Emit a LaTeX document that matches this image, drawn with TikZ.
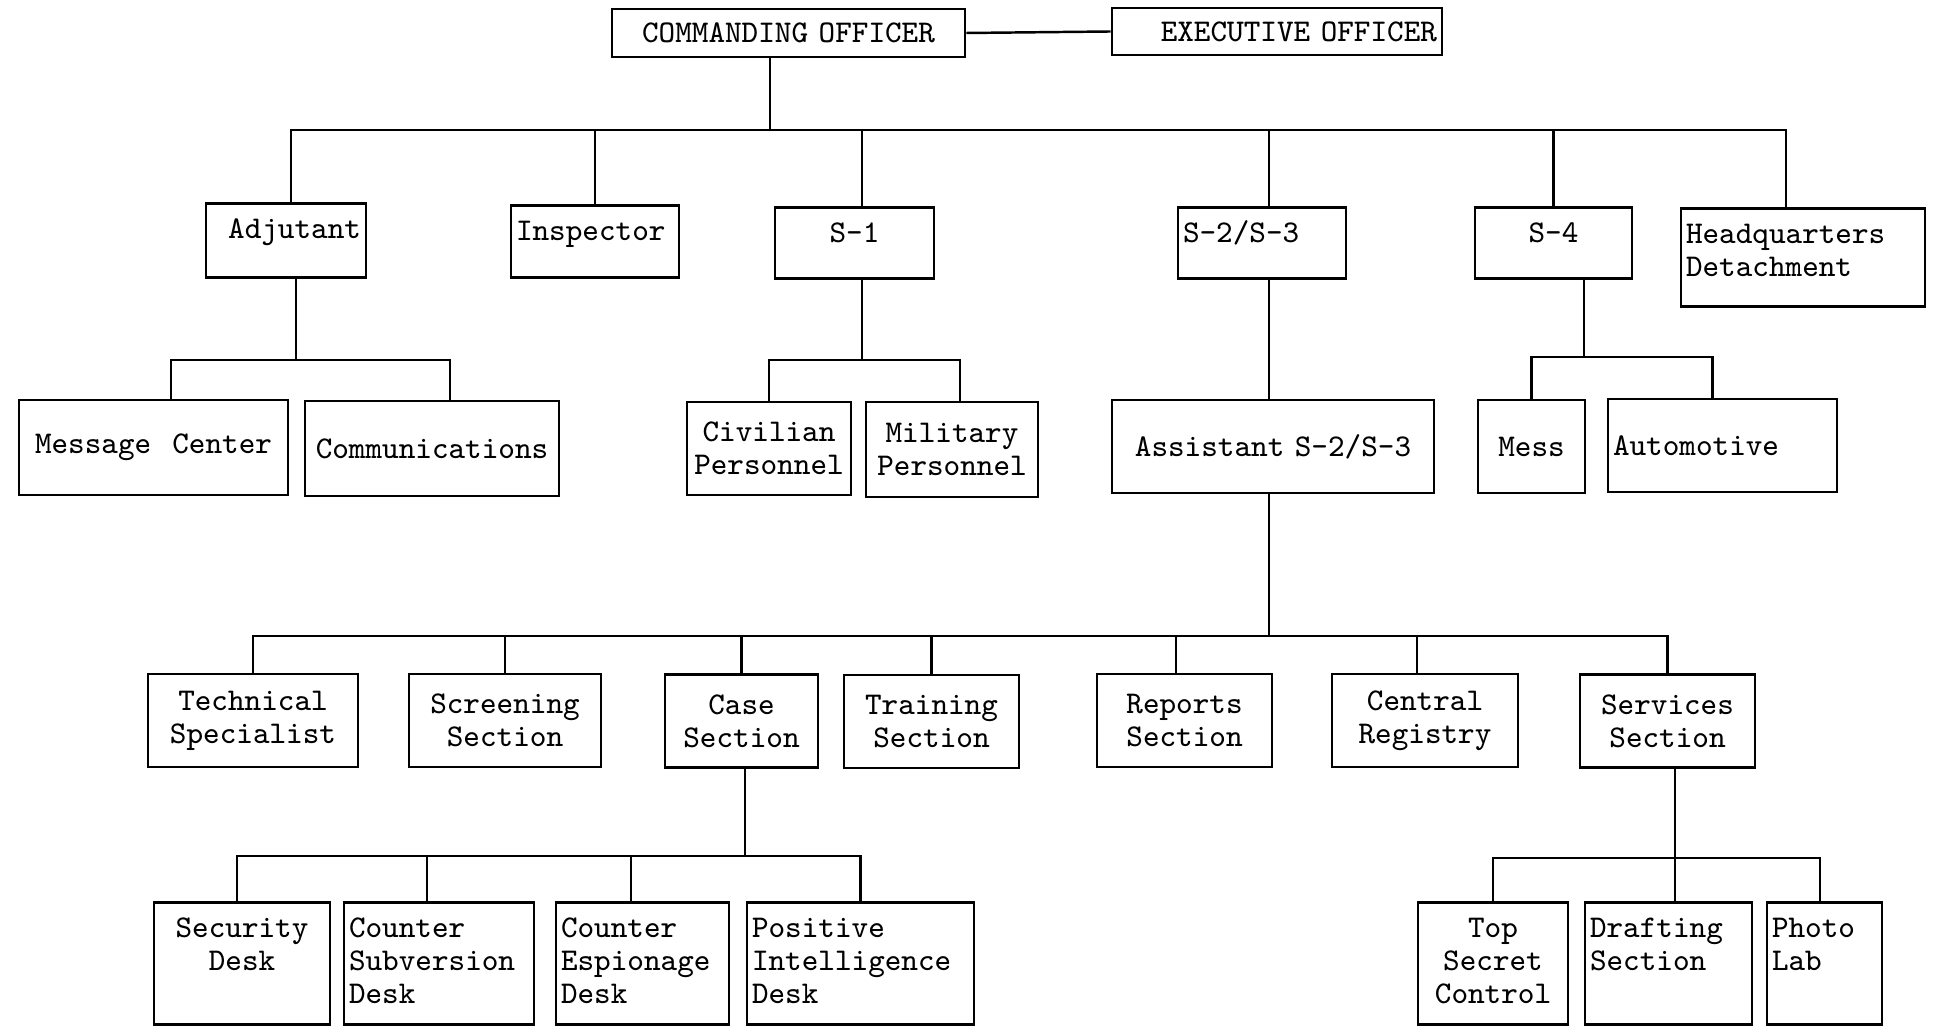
\documentclass[tikz,border=0pt]{standalone}
\usepackage{amsmath, amssymb}
\usepackage{tikz}

\begin{document}
\begin{tikzpicture}[
    unit/.style={draw, line width=0.8pt, inner xsep=0.5mm, inner ysep=0pt,
      font=\fontsize{9}{9.4}\selectfont\ttfamily},
    mid/.style={unit, minimum height=#1},
    hung/.style={unit, anchor=north, text height=3.5mm, text depth=#1},
    link/.style={line width=0.7pt}
  ]
    \useasboundingbox[fill=white] (0,0) rectangle (19.35,-10.26);

    % command
    \node[mid=4.8mm, text width=34.3mm, align=center] (co) at (7.885,-0.33) {COMMANDING OFFICER};
    \node[mid=4.7mm, text width=32mm, align=right] (xo) at (12.77,-0.315) {EXECUTIVE OFFICER};

    % staff
    \node[hung=3.9mm, text width=15mm, align=right] (adj) at (2.86,-2.02) {Adjutant};
    \node[hung=3.7mm, text width=15.8mm, align=left] (insp) at (5.95,-2.04) {Inspector};
    \node[hung=3.6mm, text width=14.9mm, align=center] (s1) at (8.545,-2.06) {S-1};
    \node[hung=3.6mm, text width=15.8mm, align=left] (s23) at (12.62,-2.06) {S-2/S-3};
    \node[hung=3.6mm, text width=14.7mm, align=center] (s4) at (15.535,-2.06) {S-4};
    \node[hung=6.3mm, text width=23.4mm, align=left] (hq) at (18.03,-2.07) {Headquarters\\Detachment};

    \node[mid=9.5mm, text width=25.9mm, align=center] (msg) at (1.535,-4.475) {Message\ \ Center};
    \node[mid=9.5mm, text width=24.4mm, align=center] (com) at (4.32,-4.485) {Communications};
    \node[mid=9.3mm, text width=15.4mm, align=center] (civ) at (7.69,-4.485) {Civilian\\Personnel};
    \node[mid=9.5mm, text width=16.2mm, align=center] (mil) at (9.52,-4.495) {Military\\Personnel};
    \node[mid=9.3mm, text width=31.2mm, align=center] (asst) at (12.73,-4.465) {Assistant S-2/S-3};
    \node[mid=9.3mm, text width=9.7mm, align=center] (mess) at (15.315,-4.465) {Mess};
    \node[mid=9.3mm, text width=21.9mm, align=left] (auto) at (17.225,-4.455) {Automotive};

    % sections
    \node[mid=9.3mm, text width=20mm, align=center] (tech) at (2.53,-7.205) {Technical\\Specialist};
    \node[mid=9.3mm, text width=18.2mm, align=center] (scr) at (5.05,-7.205) {Screening\\Section};
    \node[mid=9.3mm, text width=14.3mm, align=center] (case) at (7.415,-7.21) {Case\\Section};
    \node[mid=9.3mm, text width=16.5mm, align=center] (trn) at (9.315,-7.215) {Training\\Section};
    \node[mid=9.3mm, text width=16.5mm, align=center] (rep) at (11.845,-7.205) {Reports\\Section};
    \node[mid=9.3mm, text width=17.6mm, align=center] (cen) at (14.25,-7.205) {Central\\Registry};
    \node[mid=9.3mm, text width=16.5mm, align=center] (serv) at (16.675,-7.21) {Services\\Section};

    % desks
    \node[hung=8.7mm, text width=16.6mm, align=center] (sec) at (2.42,-9.01) {Security\\Desk};
    \node[hung=8.7mm, text width=18mm, align=left] (csub) at (4.39,-9.01) {Counter\\Subversion\\Desk};
    \node[hung=8.7mm, text width=16.3mm, align=left] (cesp) at (6.425,-9.01) {Counter\\Espionage\\Desk};
    \node[hung=8.7mm, text width=21.7mm, align=left] (pos) at (8.605,-9.01) {Positive\\Intelligence\\Desk};
    \node[hung=8.7mm, text width=14mm, align=center] (tsc) at (14.93,-9.01) {Top\\Secret\\Control};
    \node[hung=8.7mm, text width=15.7mm, align=left] (dft) at (16.685,-9.01) {Drafting\\Section};
    \node[hung=8.7mm, text width=10.5mm, align=left] (pho) at (18.245,-9.01) {Photo\\Lab};

    \coordinate (topbar) at (7.70,-1.30);
    \coordinate (adjbar) at (2.96,-3.60);
    \coordinate (s1bar) at (8.62,-3.60);
    \coordinate (s4bar) at (15.84,-3.57);
    \coordinate (midbar) at (12.69,-6.36);
    \coordinate (casebar) at (7.45,-8.56);
    \coordinate (servbar) at (16.75,-8.58);

    \draw[link] (co.east) -- (xo.west);
    \draw[link] (co.south -| topbar) -- (topbar);
    \draw[link] (topbar) -| ([xshift=0.5mm]adj.north);
    \draw[link] (topbar) -| (insp.north);
    \draw[link] (topbar) -| (s1.north -| s1bar);
    \draw[link] (topbar) -| (s23.north -| midbar);
    \draw[link] (topbar) -| (s4.north);
    \draw[link] (topbar) -| ([xshift=-1.7mm]hq.north);

    \draw[link] (adj.south -| adjbar) -- (adjbar);
    \draw[link] (adjbar) -| ([xshift=1.75mm]msg.north);
    \draw[link] (adjbar) -| ([xshift=1.8mm]com.north);
    \draw[link] (s1.south -| s1bar) -- (s1bar);
    \draw[link] (s1bar) -| (civ.north);
    \draw[link] (s1bar) -| ([xshift=0.8mm]mil.north);
    \draw[link] (s23.south -| midbar) -- (asst.north -| midbar);
    \draw[link] (s4.south -| s4bar) -- (s4bar);
    \draw[link] (s4bar) -| (mess.north);
    \draw[link] (s4bar) -| ([xshift=-1mm]auto.north);

    \draw[link] (asst.south -| midbar) -- (midbar);
    \draw[link] (midbar) -| (tech.north);
    \draw[link] (midbar) -| (scr.north);
    \draw[link] (midbar) -| (case.north);
    \draw[link] (midbar) -| (trn.north);
    \draw[link] (midbar) -| ([xshift=-0.85mm]rep.north);
    \draw[link] (midbar) -| ([xshift=-0.8mm]cen.north);
    \draw[link] (midbar) -| (serv.north);

    \draw[link] (case.south -| casebar) -- (casebar);
    \draw[link] (casebar) -| ([xshift=-0.5mm]sec.north);
    \draw[link] (casebar) -| ([xshift=-1.2mm]csub.north);
    \draw[link] (casebar) -| ([xshift=-1.15mm]cesp.north);
    \draw[link] (casebar) -| (pos.north);
    \draw[link] (serv.south -| servbar) -- (servbar);
    \draw[link] (servbar) -| (tsc.north);
    \draw[link] (servbar) -| ([xshift=0.65mm]dft.north);
    \draw[link] (servbar) -| ([xshift=-0.45mm]pho.north);
  \end{tikzpicture}
\end{document}
